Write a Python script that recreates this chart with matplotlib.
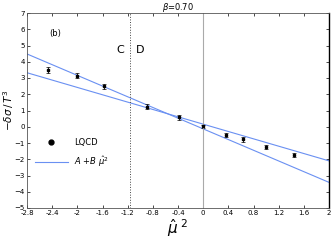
import numpy as np
import matplotlib.pyplot as plt

# lattice data
mu2 = [-2.47, -2.0, -1.57, -0.89, -0.39, 0.0, 0.36, 0.64, 1.0, 1.44]
dsig = [3.50, 3.15, 2.50, 1.23, 0.58, 0.02, -0.51, -0.77, -1.24, -1.73]
err = [0.18, 0.18, 0.16, 0.16, 0.14, 0.08, 0.14, 0.16, 0.12, 0.12]

# two fits A + B mu^2
fit_A = [-0.13, 0.16]
fit_B = [-1.646, -1.13]

mu_c = -1.16

fig = plt.figure(figsize=(3.32, 2.4), dpi=100)
ax = fig.add_axes([27/332, 32/240, 302/332, 195/240])

xs = np.linspace(-2.8, 2, 50)
for a, b in zip(fit_A, fit_B):
    ax.plot(xs, a + b * xs, color='#6a90f2', lw=0.8)
ax.plot([], [], color='#6a90f2', lw=0.8, label=r'$A$ +$B$ $\hat{\mu}^2$')

ax.errorbar(mu2, dsig, yerr=err, fmt='s', ms=2, color='black',
            ecolor='black', elinewidth=0.6, capsize=1.2, capthick=0.5)
ax.plot([], [], 'o', color='black', ms=3.5, label='LQCD')

ax.axvline(0, color='#aaaaaa', lw=0.8)
ax.axvline(mu_c, color='#444444', lw=0.7, ls=':')

ax.text(-2.45, 5.6, '(b)', fontsize=6)
ax.text(-1.38, 4.55, 'C', fontsize=8)
ax.text(-1.07, 4.55, 'D', fontsize=8)

ax.set_xlim(-2.8, 2)
ax.set_ylim(-5, 7)
ax.set_xticks(np.arange(-2.8, 2.01, 0.4))
ax.set_xticklabels(['-2.8', '-2.4', '-2', '-1.6', '-1.2', '-0.8', '-0.4',
                    '0', '0.4', '0.8', '1.2', '1.6', '2'])
ax.set_yticks(range(-5, 8))
ax.tick_params(direction='in', labelsize=5, length=2.5, width=0.5,
               top=True, right=True, pad=1.5)
for s in ax.spines.values():
    s.set_linewidth(0.6)
    s.set_color('#555555')
ax.spines['right'].set_linewidth(1.0)
ax.spines['right'].set_color('black')

ax.set_title(r'$\beta$=0.70', fontsize=6, pad=2)
ax.set_xlabel(r'$\hat{\mu}^{\ 2}$', fontsize=11, labelpad=1)
ax.set_ylabel(r'$-\delta\sigma\,/\,T^3$', fontsize=7.5)
ax.yaxis.set_label_coords(-0.036, 0.5)

h, l = ax.get_legend_handles_labels()
ax.legend(h[::-1], l[::-1], loc='center left', bbox_to_anchor=(0.0, 0.28),
          frameon=False, fontsize=6, handlelength=4, labelspacing=0.9)

fig.savefig('out.png', dpi=100)
